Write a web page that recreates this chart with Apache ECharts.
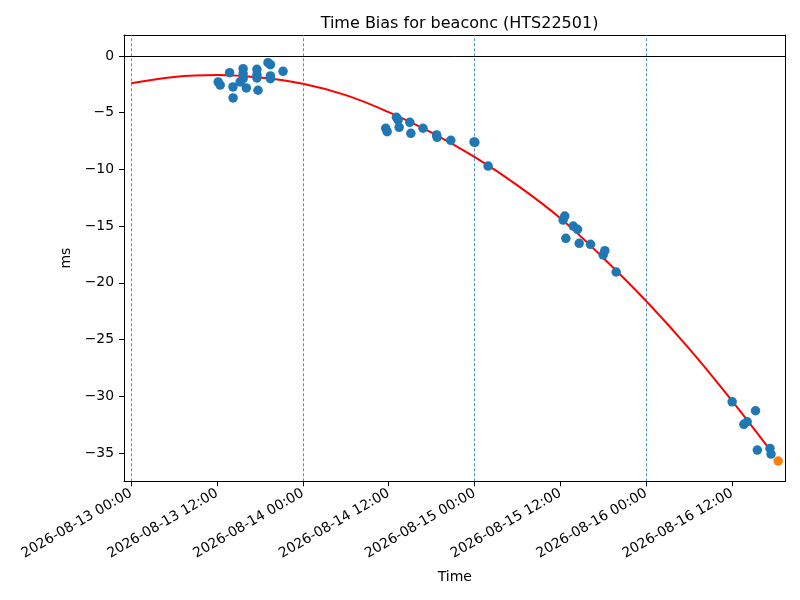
<!DOCTYPE html>
<html>
<head>
<meta charset="utf-8">
<script src="https://cdn.jsdelivr.net/npm/echarts@6/dist/echarts.min.js"></script>
<style>
  html, body { margin: 0; padding: 0; background: #fff; }
  #chart { width: 800px; height: 600px; }
</style>
</head>
<body>
<div id="chart"></div>
<script>
// measured time bias points (ms)
const times = [
  '2026-08-13 12:10', '2026-08-13 12:27', '2026-08-13 13:46', '2026-08-13 14:14', '2026-08-13 14:15',
  '2026-08-13 15:14', '2026-08-13 15:39', '2026-08-13 15:39', '2026-08-13 15:39', '2026-08-13 16:06',
  '2026-08-13 17:35', '2026-08-13 17:35', '2026-08-13 17:35', '2026-08-13 17:44', '2026-08-13 19:08',
  '2026-08-13 19:28', '2026-08-13 19:28', '2026-08-13 19:28', '2026-08-13 21:14',
  '2026-08-14 11:35', '2026-08-14 11:47', '2026-08-14 13:05', '2026-08-14 13:19', '2026-08-14 13:28',
  '2026-08-14 14:57', '2026-08-14 15:06', '2026-08-14 16:48', '2026-08-14 18:42', '2026-08-14 18:46',
  '2026-08-14 20:41', '2026-08-14 23:56', '2026-08-15 00:03', '2026-08-15 01:54',
  '2026-08-15 12:23', '2026-08-15 12:37', '2026-08-15 12:46', '2026-08-15 13:48', '2026-08-15 14:24',
  '2026-08-15 14:38', '2026-08-15 16:13', '2026-08-15 17:59', '2026-08-15 18:13', '2026-08-15 19:48',
  '2026-08-16 12:01', '2026-08-16 13:39', '2026-08-16 14:07', '2026-08-16 15:17', '2026-08-16 15:32',
  '2026-08-16 17:18', '2026-08-16 17:27'
];
const bias = [
  -2.29, -2.56, -1.47, -2.73, -3.70,
  -2.29, -1.12, -1.56, -2.00, -2.82,
  -1.17, -1.65, -1.94, -3.02, -0.59,
  -0.77, -1.76, -2.00, -1.35,
  -6.37, -6.67, -5.40, -5.64, -6.29,
  -5.85, -6.82, -6.37, -6.96, -7.17,
  -7.43, -7.58, -7.61, -9.70,
  -14.46, -14.11, -16.07, -14.99, -15.28,
  -16.51, -16.60, -17.54, -17.16, -19.04,
  -30.48, -32.47, -32.24, -31.27, -34.74,
  -34.59, -35.09
];
// latest point
const lastTime = '2026-08-16 18:27';
const lastBias = -35.70;

// fitted curve
const fitTimes = [
  '2026-08-13 00:00', '2026-08-13 06:00', '2026-08-13 12:00', '2026-08-13 18:00',
  '2026-08-14 00:00', '2026-08-14 06:00', '2026-08-14 12:00', '2026-08-14 18:00',
  '2026-08-15 00:00', '2026-08-15 06:00', '2026-08-15 12:00', '2026-08-15 18:00',
  '2026-08-16 00:00', '2026-08-16 06:00', '2026-08-16 12:00', '2026-08-16 17:17'
];
const fitBias = [
  -2.41, -1.85, -1.68, -1.90,
  -2.45, -3.45, -4.95, -6.75,
  -8.90, -11.40, -14.30, -17.80,
  -21.60, -25.80, -30.40, -34.70
];

const xTicks = [
  '2026-08-13 00:00', '2026-08-13 12:00', '2026-08-14 00:00', '2026-08-14 12:00',
  '2026-08-15 00:00', '2026-08-15 12:00', '2026-08-16 00:00', '2026-08-16 12:00'
];
const yTicks = [-35, -30, -25, -20, -15, -10, -5, 0];
const dayLines = ['2026-08-13 00:00', '2026-08-14 00:00', '2026-08-15 00:00', '2026-08-16 00:00'];
const xMin = '2026-08-12 23:00';
const xMax = '2026-08-16 19:30';
const yMin = -37.49;
const yMax = 1.85;

const toMs = s => new Date(s.replace(' ', 'T') + ':00').getTime();

const font = 'DejaVu Sans';
const chart = echarts.init(document.getElementById('chart'));

chart.setOption({
  animation: false,
  backgroundColor: '#fff',
  textStyle: { fontFamily: font },
  title: {
    text: 'Time Bias for beaconc (HTS22501)',
    left: 454.5,
    top: 11,
    textAlign: 'center',
    textStyle: { fontFamily: font, fontSize: 16, fontWeight: 'normal', color: '#000' }
  },
  grid: { left: 124, right: 14.3, top: 35, bottom: 118.7 },
  xAxis: [{
    type: 'time',
    min: toMs(xMin),
    max: toMs(xMax),
    name: 'Time',
    nameLocation: 'middle',
    nameGap: 89,
    nameTextStyle: { fontFamily: font, fontSize: 14, color: '#000' },
    axisLine: { onZero: false, lineStyle: { color: '#000', width: 1 } },
    axisTick: { show: true, length: 5, lineStyle: { color: '#000' }, customValues: xTicks.map(toMs) },
    axisLabel: {
      rotate: 30,
      margin: 11,
      fontFamily: font,
      fontSize: 13.9,
      color: '#000',
      customValues: xTicks.map(toMs),
      formatter: '{yyyy}-{MM}-{dd} {HH}:{mm}'
    },
    splitLine: { show: false }
  }, {
    type: 'time',
    position: 'top',
    min: toMs(xMin),
    max: toMs(xMax),
    axisLine: { onZero: false, lineStyle: { color: '#000', width: 1 } },
    axisTick: { show: false },
    axisLabel: { show: false },
    splitLine: { show: false }
  }],
  yAxis: [{
    type: 'value',
    min: yMin,
    max: yMax,
    name: 'ms',
    nameLocation: 'middle',
    nameGap: 46,
    nameTextStyle: { fontFamily: font, fontSize: 14, color: '#000' },
    axisLine: { show: true, onZero: false, lineStyle: { color: '#000', width: 1 } },
    axisTick: { show: true, length: 5, lineStyle: { color: '#000' }, customValues: yTicks },
    axisLabel: {
      margin: 10,
      fontFamily: font,
      fontSize: 13.9,
      color: '#000',
      customValues: yTicks,
      formatter: v => String(v).replace('-', '\u2212')
    },
    splitLine: { show: false }
  }, {
    type: 'value',
    position: 'right',
    min: yMin,
    max: yMax,
    axisLine: { show: true, onZero: false, lineStyle: { color: '#000', width: 1 } },
    axisTick: { show: false },
    axisLabel: { show: false },
    splitLine: { show: false }
  }],
  series: [{
    name: 'fit',
    type: 'line',
    data: fitTimes.map((t, i) => [toMs(t), fitBias[i]]),
    smooth: 0.4,
    showSymbol: false,
    symbol: 'none',
    lineStyle: { color: '#ff0000', width: 2 },
    z: 3,
    markLine: {
      silent: true,
      symbol: 'none',
      label: { show: false },
      data: [
        ...dayLines.map(d => ({ xAxis: toMs(d), lineStyle: { color: '#1f77b4', width: 0.8, type: [3, 2] } })),
        { yAxis: 0, lineStyle: { color: '#000', width: 1, type: 'solid' } }
      ]
    }
  }, {
    name: 'bias',
    type: 'scatter',
    data: times.map((t, i) => [toMs(t), bias[i]]),
    symbolSize: 9.5,
    itemStyle: { color: '#1f77b4', opacity: 1 },
    z: 4
  }, {
    name: 'latest',
    type: 'scatter',
    data: [[toMs(lastTime), lastBias]],
    symbolSize: 9.5,
    itemStyle: { color: '#ff7f0e', opacity: 1 },
    z: 5
  }]
});
</script>
</body>
</html>
